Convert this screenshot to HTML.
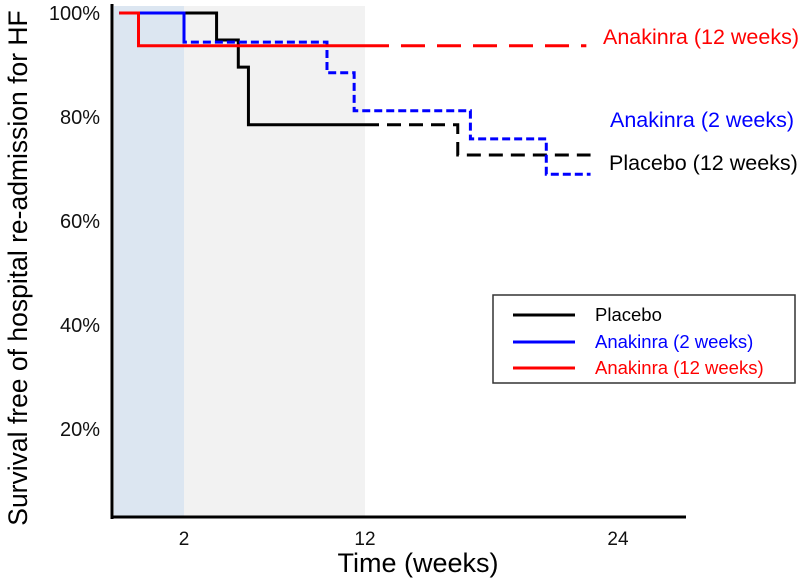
<!DOCTYPE html>
<html><head><meta charset="utf-8"><style>
html,body{margin:0;padding:0;background:#fff}
svg{display:block;font-family:"Liberation Sans",sans-serif}
</style></head><body>
<svg id="chart" width="800" height="584" viewBox="0 0 800 584">
  <rect x="114" y="6" width="70" height="512" fill="#dce6f1"/>
  <rect x="184" y="6" width="181" height="512" fill="#f2f2f2"/>
  <g id="series"></g>
  <line x1="112" y1="4" x2="112" y2="519" stroke="#000" stroke-width="3"/>
  <line x1="111" y1="517" x2="686" y2="517" stroke="#000" stroke-width="3"/>
  <g id="yticks" font-size="20" text-anchor="end" fill="#111"></g>
  <g id="xticks" font-size="19" text-anchor="middle" fill="#111"></g>
  <text x="418" y="572" font-size="27" text-anchor="middle">Time (weeks)</text>
  <text transform="translate(27,268) rotate(-90)" font-size="26.5" text-anchor="middle">Survival free of hospital re-admission for HF</text>
  <text x="603" y="44" font-size="21.5" fill="#ff0000">Anakinra (12 weeks)</text>
  <text x="610" y="127" font-size="21.5" fill="#0000ff">Anakinra (2 weeks)</text>
  <text x="609" y="170" font-size="21.5" fill="#000">Placebo (12 weeks)</text>
  <g>
    <rect x="493" y="295" width="302" height="88" fill="#fff" stroke="#333" stroke-width="1.5"/>
    <line x1="513" y1="315" x2="575" y2="315" stroke="#000" stroke-width="3"/>
    <text x="595" y="321" font-size="18.5">Placebo</text>
    <line x1="513" y1="342" x2="575" y2="342" stroke="#0000ff" stroke-width="3"/>
    <text x="595" y="348" font-size="18.5" fill="#0000ff">Anakinra (2 weeks)</text>
    <line x1="513" y1="368" x2="575" y2="368" stroke="#ff0000" stroke-width="3"/>
    <text x="595" y="374" font-size="18.5" fill="#ff0000">Anakinra (12 weeks)</text>
  </g>
</svg>
<script>
const yTicks = [20, 40, 60, 80, 100];
const xTicks = [2, 12, 24];
const redWeeks = [0.15, 0.7, 22.5];
const redValues = [100, 93.7, 93.7];
const blueWeeks = [0.15, 2, 9.9, 11.4, 17.0, 20.6, 22.7];
const blueValues = [100, 94.4, 88.5, 81.2, 75.8, 69.0, 69.0];
const blackWeeks = [0.15, 3.8, 5.0, 5.56, 16.4, 22.7];
const blackValues = [100, 94.8, 89.6, 78.5, 72.7, 72.7];

function xs(w){
  if (w <= 2) return 114 + w * 35;
  if (w <= 12) return 184 + (w - 2) * 18.1;
  return 365 + (w - 12) * 21.08;
}
function ys(v){ return 533 - v * 5.2; }
const NS = "http://www.w3.org/2000/svg";

const yg = document.getElementById('yticks');
yTicks.forEach(v => {
  const t = document.createElementNS(NS, 'text');
  t.setAttribute('x', 100); t.setAttribute('y', ys(v) + 7);
  t.textContent = v + '%';
  
  
  yg.appendChild(t);
});
const xg = document.getElementById('xticks');
xTicks.forEach(w => {
  const t = document.createElementNS(NS, 'text');
  t.setAttribute('x', xs(w)); t.setAttribute('y', 545);
  t.textContent = w;
  
  
  xg.appendChild(t);
});

function stepPts(weeks, vals){
  const p = [];
  for (let i = 0; i < weeks.length; i++) {
    if (i > 0) p.push([weeks[i], vals[i - 1]]);
    p.push([weeks[i], vals[i]]);
  }
  return p;
}
function splitAt(pts, cut){
  const a = [], b = [];
  for (let i = 0; i < pts.length; i++) {
    const [w, v] = pts[i];
    if (w <= cut) a.push([w, v]);
    if (w >= cut) b.push([w, v]);
    if (i < pts.length - 1) {
      const [w2] = pts[i + 1];
      if (w < cut && w2 > cut) { a.push([cut, v]); b.push([cut, v]); }
    }
  }
  return [a, b];
}
const sg = document.getElementById('series');
function draw(pts, color, dash, name){
  if (pts.length < 2) return;
  const p = document.createElementNS(NS, 'polyline');
  p.setAttribute('points', pts.map(q => xs(q[0]) + ',' + ys(q[1])).join(' '));
  p.setAttribute('fill', 'none');
  p.setAttribute('stroke', color);
  p.setAttribute('stroke-width', '3');
  if (dash) p.setAttribute('stroke-dasharray', dash);
  
  
  sg.appendChild(p);
}
let s;
s = splitAt(stepPts(blackWeeks, blackValues), 12);
draw(s[0], '#000', null, 'placebo-curve-solid');
draw(s[1], '#000', '14 8', 'placebo-curve-dashed');
s = splitAt(stepPts(blueWeeks, blueValues), 2);
draw(s[0], '#0000ff', null, 'anakinra-2-curve-solid');
draw(s[1], '#0000ff', '8 4', 'anakinra-2-curve-dashed');
s = splitAt(stepPts(redWeeks, redValues), 12);
draw(s[0], '#ff0000', null, 'anakinra-12-curve-solid');
draw(s[1], '#ff0000', '24 12', 'anakinra-12-curve-dashed');
</script>
</body></html>
